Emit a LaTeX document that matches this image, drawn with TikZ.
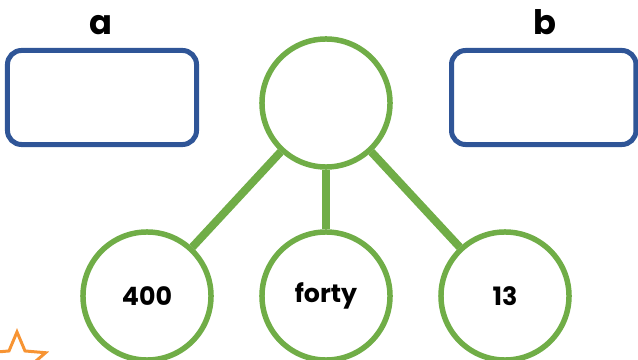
\documentclass[tikz,border=0pt]{standalone}
\usepackage{fontspec}
\setmainfont{Poppins}
\usetikzlibrary{shapes.geometric}
\definecolor{bondgreen}{HTML}{70AD47}
\definecolor{boxblue}{HTML}{2F5597}
\definecolor{starorange}{HTML}{F79433}

\def\ytop{103}
\def\ybot{296}
\def\xl{147}
\def\xm{326}
\def\xr{505}

\tikzset{
  numcirc/.style={circle, draw=bondgreen, line width=0.1375cm, minimum size=3.2cm, inner sep=0pt,
    font=\fontsize{18}{22}\selectfont\bfseries},
  ansbox/.style={draw=boxblue, line width=0.125cm, rounded corners=0.35cm, minimum height=2.35cm},
  link/.style={draw=bondgreen, line width=0.2cm},
  lbl/.style={anchor=base, font=\fontsize{24}{28}\selectfont\bfseries}
}

\begin{document}
\begin{tikzpicture}[x=0.025cm,y=-0.025cm]
        \useasboundingbox (0,0) rectangle (638,360);
        \node[lbl] (lbla) at (101,35) {a};
        \node[lbl] (lblb) at (545,35) {b};
        \node[ansbox, minimum width=4.725cm] (boxa) at (102,97.5) {};
        \node[ansbox, minimum width=4.61cm] (boxb) at (543.75,97.5) {};
        \node[numcirc] (whole) at (\xm,\ytop) {};
        \node[numcirc] (left) at (\xl,\ybot) {400};
        \node[numcirc] (mid) at (\xm,\ybot) {forty};
        \node[numcirc] (right) at (\xr,\ybot) {13};
        \draw[link] (whole) -- (left);
        \draw[link] (whole) -- (mid);
        \draw[link] (whole) -- (right);
        \node[star, star points=5, star point ratio=2.2, draw=starorange, line width=0.075cm,
          minimum size=1.5cm, inner sep=0pt] (logo) at (17,362) {};
    \end{tikzpicture}
\end{document}
